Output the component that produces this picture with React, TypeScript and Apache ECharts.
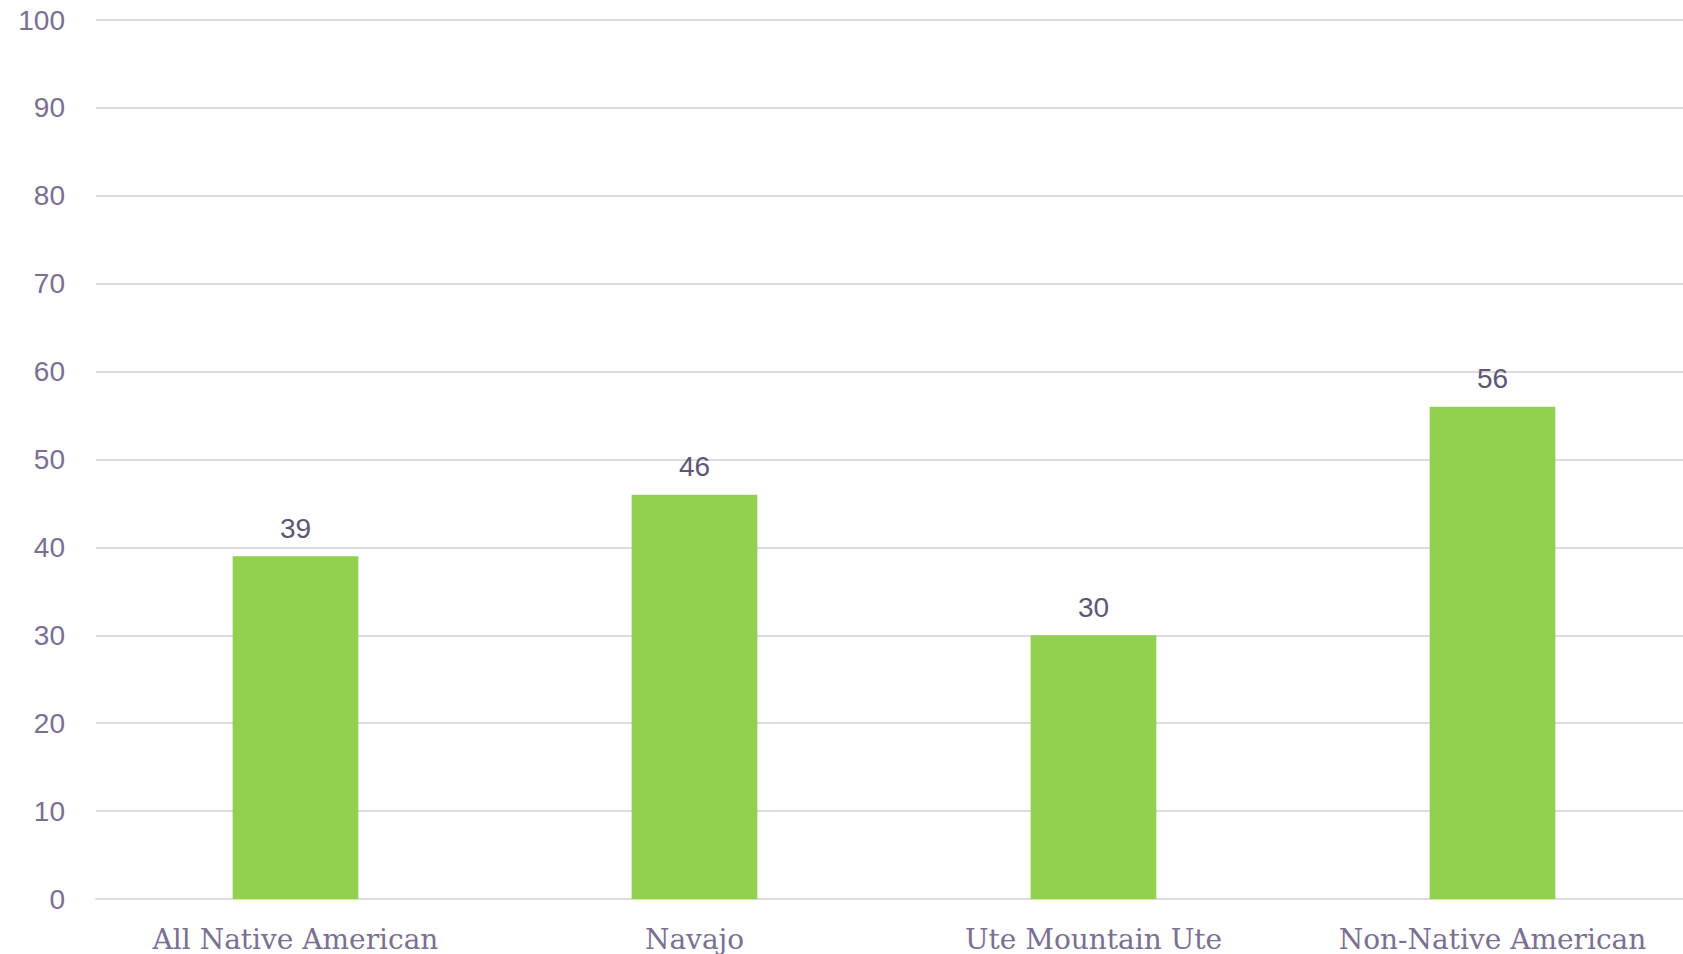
import React, { useEffect, useRef } from "react";
import * as echarts from "echarts";

const categories = ["All Native American", "Navajo", "Ute Mountain Ute", "Non-Native American"];
const values = [39, 46, 30, 56];

export default function App() {
  const ref = useRef<HTMLDivElement>(null);
  useEffect(() => {
    document.body.style.overflow = "hidden";
    const chart = echarts.init(ref.current!, null, { renderer: "svg" });
    chart.setOption({
      animation: false,
      backgroundColor: "#ffffff",
      grid: { left: 96, right: 0, top: 20, bottom: 55, containLabel: false },
      xAxis: {
        type: "category",
        data: categories,
        axisLine: { lineStyle: { color: "#dcdae3", width: 2 } },
        axisTick: { show: false },
        axisLabel: {
          interval: 0,
          hideOverlap: false,
          color: "#7b6f92",
          fontFamily: "DejaVu Serif",
          fontSize: 28,
          margin: 26,
        },
      },
      yAxis: {
        type: "value",
        min: 0,
        max: 100,
        interval: 10,
        axisLine: { show: false },
        axisTick: { show: false },
        splitLine: { lineStyle: { color: "#dcdae3", width: 2 } },
        axisLabel: {
          color: "#7b6f92",
          fontFamily: "Liberation Sans",
          fontSize: 28,
          margin: 31,
        },
      },
      series: [
        {
          type: "bar",
          data: values,
          barWidth: "31.5%",
          itemStyle: { color: "#92d050" },
          label: {
            show: true,
            position: "top",
            distance: 14,
            color: "#5e5675",
            fontFamily: "Liberation Sans",
            fontSize: 28,
          },
        },
      ],
    });
    return () => chart.dispose();
  }, []);
  return (
    <div style={{ position: "absolute", left: 0, top: 0, width: 1683, height: 954, overflow: "hidden" }}>
      <div ref={ref} style={{ width: 1692, height: 954 }} />
    </div>
  );
}
